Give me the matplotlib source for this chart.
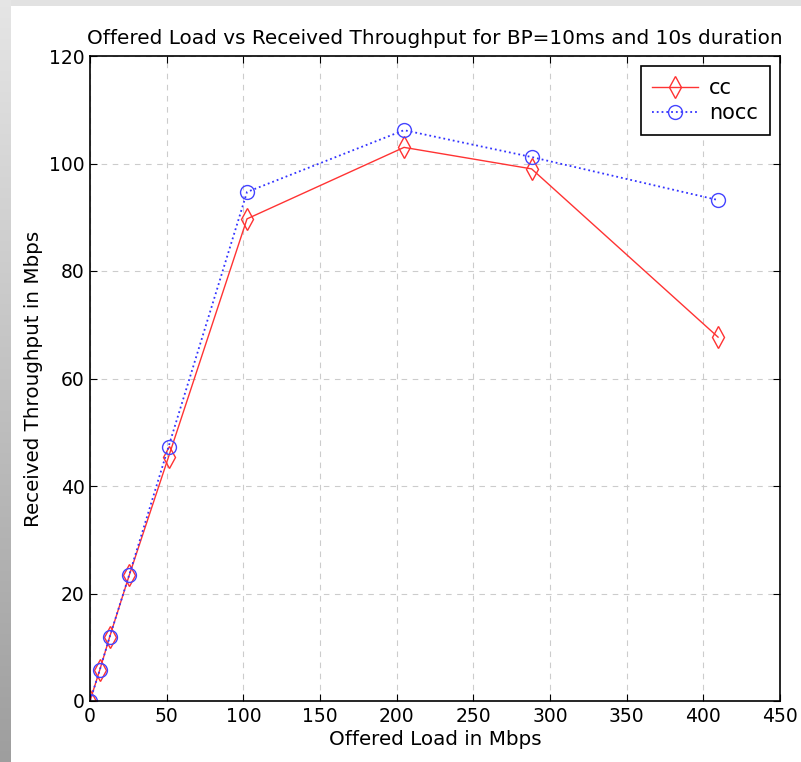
import numpy as np
import matplotlib
matplotlib.use("Agg")
import matplotlib.pyplot as plt

plt.rcParams['font.family'] = ['DejaVu Sans']

# Offered load (Mbps) and received throughput (Mbps)
offered_load = [0, 6.4, 12.8, 25.6, 51.2, 102.4, 204.8, 288, 409.6]
cc_throughput = [0, 5.8, 11.9, 23.4, 45.4, 89.7, 103.0, 99.0, 67.7]
nocc_throughput = [0, 5.8, 11.9, 23.5, 47.3, 94.7, 106.2, 101.2, 93.2]

x_ticks = list(range(0, 451, 50))
y_ticks = list(range(0, 121, 20))

fig = plt.figure(figsize=(8.01, 7.62), dpi=100)
fig.patch.set_facecolor('white')

# gray slide frame along the left and top edges
bg = fig.add_axes([0, 0, 1, 1], zorder=-10)
bg.set_axis_off()
grad = np.linspace(0.90, 0.62, 256).reshape(-1, 1)
bg.imshow(np.dstack([grad] * 3), extent=[0, 11, 762, 0], aspect='auto')
bg.add_patch(plt.Rectangle((11, 0), 790, 6, color='#e2e2e2', lw=0))
bg.set_xlim(0, 801)
bg.set_ylim(762, 0)

ax = fig.add_axes([90 / 801, 61 / 762, 690 / 801, 645 / 762])
ax.plot(offered_load, cc_throughput, '-', color='#ff3333', lw=1.0,
        marker='d', markersize=11, markerfacecolor='none',
        markeredgecolor='#ff3333', markeredgewidth=1.0, label='cc')
ax.plot(offered_load, nocc_throughput, ':', color='#3333ff', lw=1.3,
        marker='o', markersize=10, markerfacecolor='none',
        markeredgecolor='#4444ff', markeredgewidth=1.0, label='nocc')

ax.set_xlim(0, 450)
ax.set_ylim(0, 120)
ax.set_xticks(x_ticks)
ax.set_yticks(y_ticks)
ax.grid(True, linestyle=(0, (5, 5)), color='#cccccc', lw=0.8)
ax.tick_params(direction='in', top=True, right=True, labelsize=13.5,
               length=5, width=0.8, pad=4)
for s in ax.spines.values():
    s.set_linewidth(1.2)

ax.set_title('Offered Load vs Received Throughput for BP=10ms and 10s duration',
             fontsize=14.4, pad=9)
ax.set_xlabel('Offered Load in Mbps', fontsize=14.3, labelpad=3)
ax.set_ylabel('Received Throughput in Mbps', fontsize=14.3, labelpad=4)

leg = ax.legend(loc='upper right', fontsize=15, fancybox=False,
                edgecolor='black', framealpha=1, borderaxespad=0.5,
                handlelength=2.2, labelspacing=0.25, borderpad=0.55,
                handletextpad=0.55)
leg.get_frame().set_linewidth(1.2)

fig.savefig('out.png', dpi=100)
